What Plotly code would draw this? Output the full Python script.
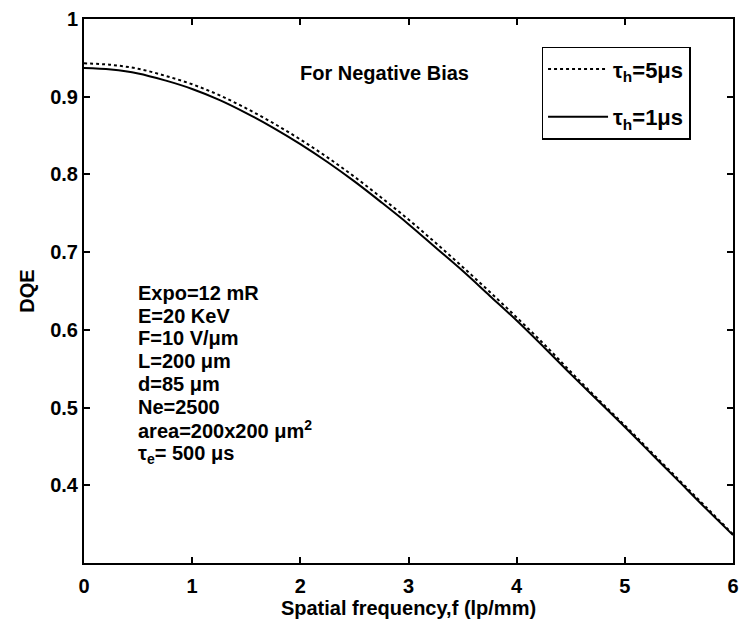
import plotly.graph_objects as go

freq = [0, 0.25, 0.5, 0.75, 1.0, 1.25, 1.5, 1.75, 2.0, 2.25, 2.5, 2.75, 3.0,
        3.25, 3.5, 3.75, 4.0, 4.25, 4.5, 4.75, 5.0, 5.25, 5.5, 5.75, 6.0]
dqe_tau5 = [0.943, 0.941, 0.936, 0.927, 0.916, 0.902, 0.885, 0.866, 0.845, 0.822,
            0.797, 0.770, 0.742, 0.712, 0.681, 0.649, 0.616, 0.582, 0.546, 0.511,
            0.477, 0.442, 0.407, 0.372, 0.337]
dqe_tau1 = [0.937, 0.935, 0.930, 0.921, 0.910, 0.896, 0.879, 0.860, 0.839, 0.816,
            0.791, 0.764, 0.736, 0.706, 0.676, 0.644, 0.612, 0.578, 0.543, 0.509,
            0.475, 0.440, 0.405, 0.370, 0.336]
x_ticks = [0, 1, 2, 3, 4, 5, 6]
y_ticks = [0.4, 0.5, 0.6, 0.7, 0.8, 0.9, 1.0]
y_tick_text = ["0.4", "0.5", "0.6", "0.7", "0.8", "0.9", "1"]
params = ["Expo=12 mR", "E=20 KeV", "F=10 V/μm", "L=200 μm", "d=85 μm", "Ne=2500",
          "area=200x200 μm<sup>2</sup>", "τ<sub>e</sub>= 500 μs"]

FONT = "Liberation Sans"
FS = 20

fig = go.Figure()
fig.add_trace(go.Scatter(x=freq, y=dqe_tau5, mode="lines", line_shape="spline",
                         line=dict(color="black", width=2, dash="dot"),
                         name="τ<sub>h</sub>=5μs", legendgroup="a"))
fig.add_trace(go.Scatter(x=freq, y=dqe_tau1, mode="lines", line_shape="spline",
                         line=dict(color="black", width=2),
                         name="τ<sub>h</sub>=1μs", legendgroup="b"))

axis_common = dict(showline=True, linecolor="black", linewidth=2, mirror="ticks",
                   ticks="inside", ticklen=6, tickwidth=1.5, tickcolor="black",
                   showgrid=False, zeroline=False,
                   tickfont=dict(family=FONT, size=FS, color="black", weight="bold"))

fig.update_xaxes(range=[0, 6], tickvals=x_ticks, ticklabelstandoff=4,
                 title=dict(text="Spatial frequency,f (lp/mm)", standoff=4,
                            font=dict(family=FONT, size=FS, color="black", weight="bold")),
                 **axis_common)
fig.update_yaxes(range=[0.3, 1.0], tickvals=y_ticks, ticktext=y_tick_text,
                 title=dict(text="DQE", standoff=10,
                            font=dict(family=FONT, size=FS, color="black", weight="bold")),
                 **axis_common)

fig.add_annotation(xref="paper", yref="paper", x=0.463, y=0.9, text="For Negative Bias",
                   showarrow=False, xanchor="center", yanchor="middle",
                   font=dict(family=FONT, size=FS, color="black", weight="bold"))

plot_h = 626 - 18 - 63
line_y = [293, 315.5, 338, 361, 384, 406.5, 429, 454]
for line, py in zip(params, line_y):
    fig.add_annotation(xref="paper", yref="paper", x=0.08, y=1 - (py - 18) / plot_h,
                       text=line, showarrow=False, xanchor="left", yanchor="middle",
                       align="left",
                       font=dict(family=FONT, size=FS, color="black", weight="bold"))

fig.update_layout(
    width=747, height=626,
    margin=dict(l=84, r=8, t=18, b=63),
    plot_bgcolor="white", paper_bgcolor="white",
    legend=dict(x=0.705, y=0.949, xanchor="left", yanchor="top",
                bordercolor="black", borderwidth=1.5, bgcolor="white",
                tracegroupgap=16, itemwidth=60,
                font=dict(family=FONT, size=22, color="black", weight="bold")),
)

fig.write_html("out.html")
